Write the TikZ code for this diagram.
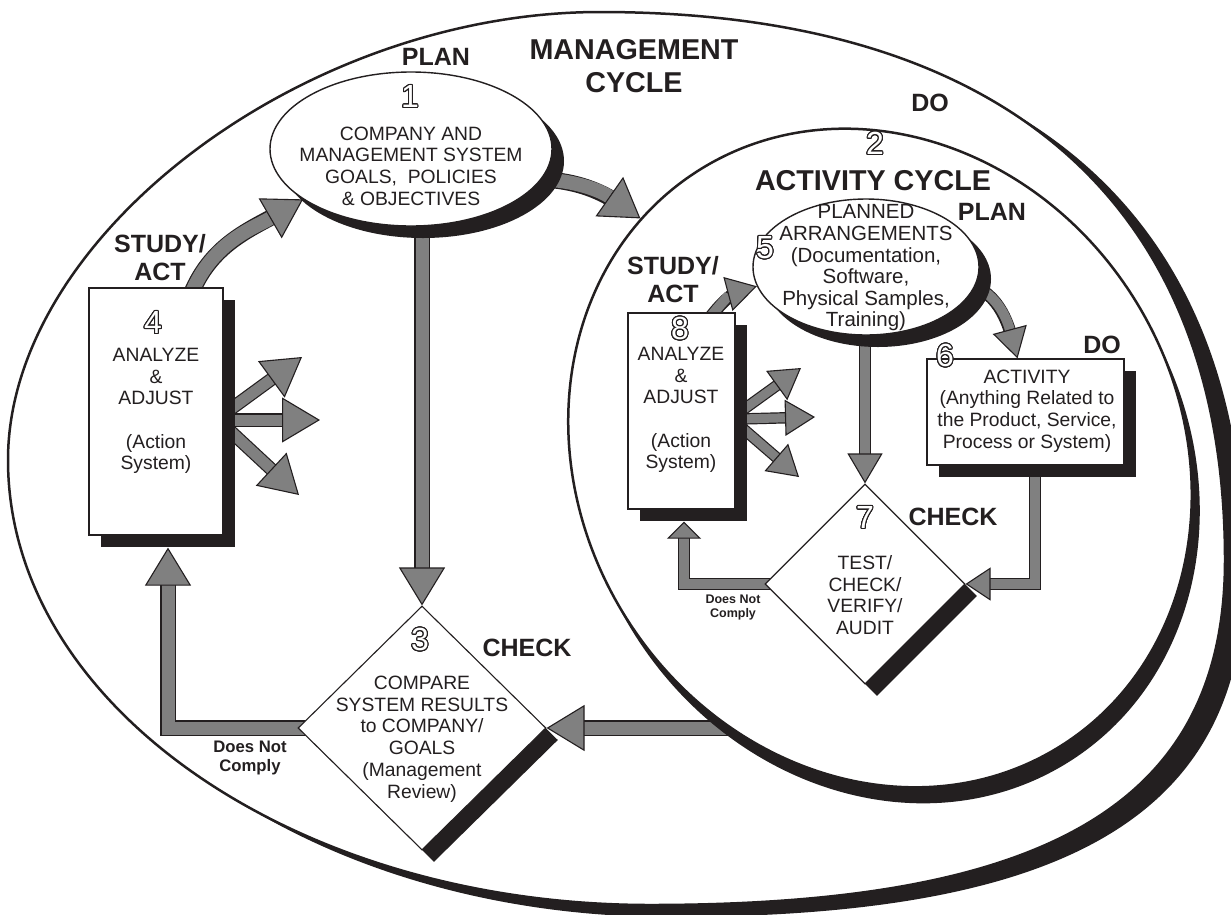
\documentclass[tikz,border=0pt]{standalone}
\usepackage{fontspec}
\setmainfont{Liberation Sans}
\usepackage{contour}
\contourlength{1pt}
\contournumber{24}
\usetikzlibrary{shapes.geometric,arrows.meta,calc,shadows}
\definecolor{fline}{HTML}{231F20}
\definecolor{fgray}{HTML}{808080}
\pgfdeclarelayer{bg}
\pgfdeclarelayer{low}
\pgfdeclarelayer{actl}
\pgfdeclarelayer{arr}
\pgfsetlayers{bg,low,actl,arr,main}
\newcommand\mgmtpath{(8,460) .. controls (8,236) and (304,12) .. (600,12)
  .. controls (1006,12) and (1225,204) .. (1225,560)
  .. controls (1225,801) and (1052,905) .. (650,905)
  .. controls (296,905) and (8,706) .. (8,460) -- cycle}
\tikzset{
  fatarrow/.style n args={3}{draw=fgray, line width=#1, line join=miter,
    preaction={draw=fline, line width=#1+2.4pt, arrows=-, shorten >=#2*0.6},
    arrows={-{Triangle[length=#2,width=#3,color=fline,fill=fgray,line width=1.1pt]}}},
  bigarrow/.style={fatarrow={13pt}{38pt}{46pt}},
  smallarrow/.style={fatarrow={10pt}{30pt}{35pt}},
  triarrow/.style={fatarrow={11pt}{38pt}{45pt}},
  trismall/.style={fatarrow={9pt}{30pt}{36pt}},
  shad/.style={drop shadow={shadow xshift=#1, shadow yshift=-#1, opacity=1, fill=fline}},
  boxnode/.style={rectangle, draw=fline, line width=1.2pt, fill=white, inner sep=0pt, shad=12pt},
  dianode/.style={diamond, draw=fline, line width=1.1pt, fill=white, inner sep=0pt, shad=12pt},
  ellnode/.style={ellipse, draw=fline, line width=1.4pt, fill=white, inner sep=0pt, shad=12pt},
  actshape/.style={ellipse, rotate=32, minimum width=600pt, minimum height=680pt, inner sep=0pt},
  txt/.style={font=\fontsize{19.3pt}{21.7pt}\selectfont, align=center, inner sep=0pt, text=fline},
  txtb/.style={font=\fontsize{20.5pt}{21.6pt}\selectfont, align=center, inner sep=0pt, text=fline},
  lab/.style={font=\bfseries\fontsize{25pt}{28pt}\selectfont, align=center, inner sep=0pt, text=fline},
  ttl/.style={font=\bfseries\fontsize{28.7pt}{33pt}\selectfont, align=center, inner sep=0pt, text=fline},
  dnc/.style={font=\bfseries\fontsize{16.7pt}{18.5pt}\selectfont, align=center, inner sep=0pt, text=fline},
  dncs/.style={font=\bfseries\fontsize{12.5pt}{14pt}\selectfont, align=center, inner sep=0pt, text=fline},
  dig/.style={font=\fontsize{32pt}{32pt}\selectfont, inner sep=0pt, text=white},
}
\begin{document}
\begin{tikzpicture}[x=1pt,y=-1pt]
\useasboundingbox (0,0) rectangle (1231,914);
% ---------- management cycle outline ----------
\begin{pgfonlayer}{bg}
\fill[white] (0,0) rectangle (1231,914);
\fill[fline, shift={(20,12)}] \mgmtpath;
\filldraw[fill=white, draw=fline, line width=2.5pt] \mgmtpath;
\end{pgfonlayer}
% ---------- activity cycle outline ----------
\begin{pgfonlayer}{actl}
\node[actshape, fill=fline] (acts) at (888,474) {};
\node[actshape, fill=white, draw=fline, line width=2.5pt] (act) at (880,458) {};
\end{pgfonlayer}

% ---------- management cycle nodes ----------
\node[ellnode, minimum width=282pt, minimum height=154pt] (e1) at (411,149) {};
\node[boxnode, minimum width=134pt, minimum height=247pt] (b4) at (156,411.5) {};
\node[dianode, minimum width=248pt, minimum height=244pt] (d3) at (422,728) {};

% ---------- activity cycle nodes ----------
\node[ellnode, minimum width=226pt, minimum height=136pt] (e5) at (866,267) {};
\node[boxnode, minimum width=107pt, minimum height=196pt] (b8) at (681.5,411) {};
\node[boxnode, minimum width=197pt, minimum height=106pt] (b6) at (1025.5,412) {};
\node[dianode, minimum width=200pt, minimum height=200pt] (d7) at (865,584) {};

% ---------- texts ----------
\node[ttl] (mgt) at (634,66) {MANAGEMENT\\CYCLE};
\node[lab] (plan1) at (436,57) {PLAN};
\node[lab] (do1) at (930,103) {DO};
\node[lab] (sa1) at (160,258) {STUDY/\\ACT};
\node[lab] (chk1) at (527,648) {CHECK};
\node[dnc] (dnc1) at (250,758) {Does Not\\Comply};

\node[dig] (n1) at (410,97) {\contour{fline}{1}};
\node[txt] (t1) at (411,166) {COMPANY AND\\MANAGEMENT SYSTEM\\GOALS,\ \ POLICIES\\\& OBJECTIVES};
\node[dig] (n4) at (153,323) {\contour{fline}{4}};
\node[txt] (t4) at (156,411) {ANALYZE\\\&\\ADJUST\\[21.7pt](Action\\System)};
\node[dig] (n3) at (420,640) {\contour{fline}{3}};
\node[txt] (t3) at (422,739) {COMPARE\\SYSTEM RESULTS\\to COMPANY/\\GOALS\\(Management\\Review)};

\node[ttl] (act2) at (873,181) {ACTIVITY CYCLE};
\node[dig] (n2) at (875,144) {\contour{fline}{2}};
\node[lab] (plan2) at (992,212) {PLAN};
\node[lab] (sa2) at (673,280) {STUDY/\\ACT};
\node[lab] (do2) at (1102,345) {DO};
\node[lab] (chk2) at (953,517) {CHECK};
\node[dncs] (dnc2) at (733,607) {Does Not\\Comply};

\node[txtb] (t5) at (866,268) {PLANNED\\ARRANGEMENTS\\(Documentation,\\Software,\\Physical Samples,\\Training)};
\node[dig] (n5) at (765,248) {\contour{fline}{5}};
\node[dig] (n8) at (680,329) {\contour{fline}{8}};
\node[txt] (t8) at (681,410) {ANALYZE\\\&\\ADJUST\\[21.7pt](Action\\System)};
\node[dig] (n6) at (945,356) {\contour{fline}{6}};
\node[txt] (t6) at (1027,411) {ACTIVITY\\(Anything Related to\\the Product, Service,\\Process or System)};
\node[dig] (n7) at (865,518) {\contour{fline}{7}};
\node[txt] (t7) at (865,595) {TEST/\\CHECK/\\VERIFY/\\AUDIT};

% ---------- arrow hidden under the activity ellipse ----------
\begin{pgfonlayer}{low}
\coordinate (actin) at (800,728);
\draw[bigarrow] (actin) -- (d3.east);
\end{pgfonlayer}

% ---------- connectors ----------
\begin{pgfonlayer}{arr}
\draw[bigarrow] (d3.north |- e1.center) -- (d3.north);
\draw[bigarrow] (d3.center) -| ($(b4.south)+(12,12)$);
\draw[fatarrow={14pt}{38pt}{48pt}] ($(e1.center)+(120,30)$) to[out=0,in=145] (act.103);
\draw[fatarrow={14pt}{38pt}{46pt}] ($(b4.north)+(33,12)$) to[out=70,in=210] (e1.205);
% triple arrows at box 4
\coordinate (t4a) at (302,357);
\coordinate (t4b) at (320,420);
\coordinate (t4c) at (299,495);
\draw[triarrow] (228,411) -- (t4a);
\draw[triarrow] (228,420) -- (t4b);
\draw[triarrow] (228,429) -- (t4c);
% activity cycle connectors
\draw[smallarrow] (d7.north |- e5.center) -- (d7.north);
\draw[fatarrow={10pt}{17pt}{34pt}] (d7.center) -| ($(b8.south)+(2.5,12)$);
\draw[fatarrow={10pt}{25pt}{33pt}] ($(b6.center)+(9.5,0)$) |- (d7.east);
\draw[smallarrow] ($(e5.center)+(95,15)$) to[out=-10,in=105] ($(b6.north)+(-8,0)$);
\draw[smallarrow] ($(b8.north)+(25,10)$) to[out=55,in=195] (e5.190);
% triple arrows at box 8
\coordinate (t8a) at (801,368);
\coordinate (t8b) at (815,417);
\coordinate (t8c) at (799,477);
\draw[trismall] (740,412) -- (t8a);
\draw[trismall] (740,419) -- (t8b);
\draw[trismall] (740,426) -- (t8c);
\end{pgfonlayer}
\end{tikzpicture}
\end{document}
